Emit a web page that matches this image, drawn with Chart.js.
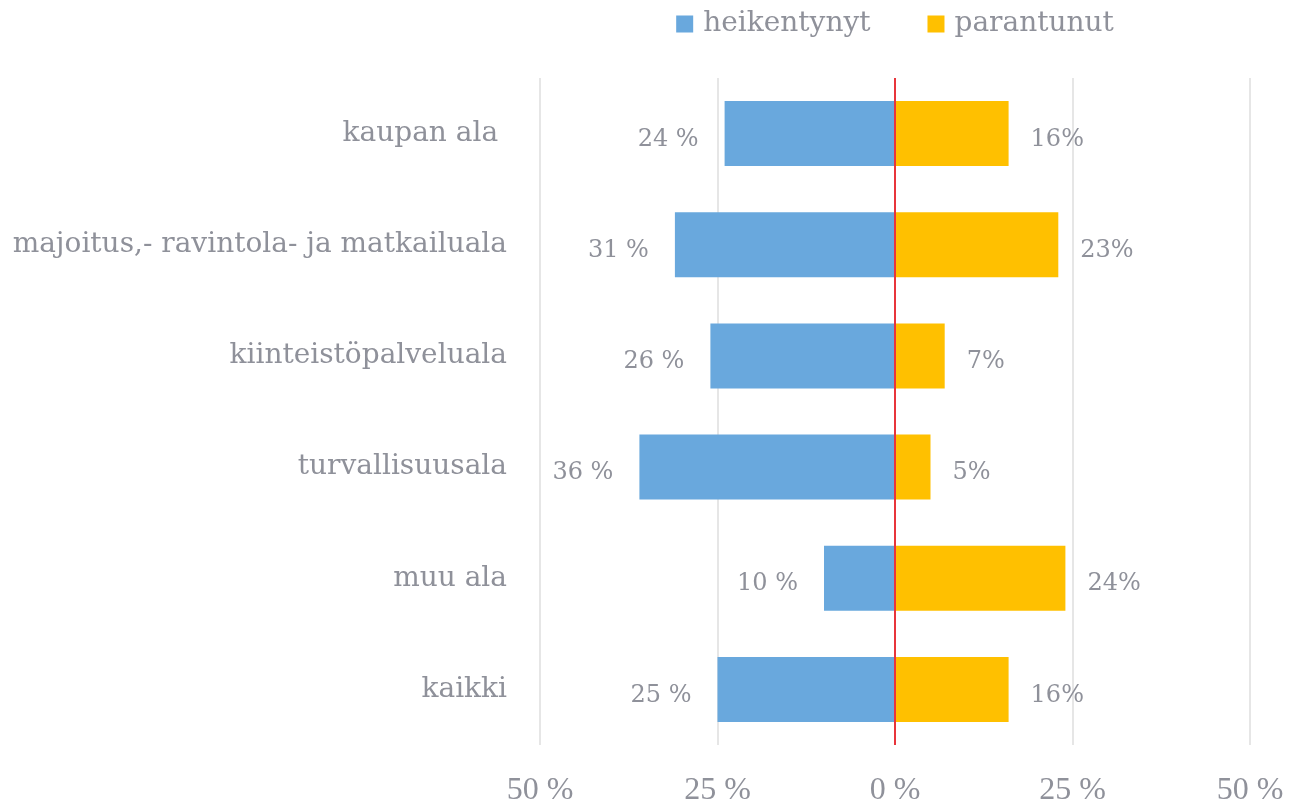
<!DOCTYPE html>
<html>
<head>
<meta charset="utf-8">
<script src="https://cdn.jsdelivr.net/npm/chart.js@4.4.1/dist/chart.umd.min.js"></script>
<style>
  html, body { margin: 0; padding: 0; background: #ffffff; }
  #wrap { width: 1291px; height: 805px; }
</style>
</head>
<body>
<div id="wrap"><canvas id="c" width="1291" height="805"></canvas></div>
<script>
const categories = ["kaupan ala ", "majoitus,- ravintola- ja matkailuala", "kiinteistöpalveluala", "turvallisuusala", "muu ala", "kaikki"];
const seriesNames = ["heikentynyt", "parantunut"];
const heikentynyt = [24, 31, 26, 36, 10, 25];
const parantunut = [16, 23, 7, 5, 24, 16];
const xTickValues = [-50, -25, 0, 25, 50];

const TEXT = '#8F919A';
const BLUE = '#69A8DD';
const YELLOW = '#FFC000';
const SERIF = '"DejaVu Serif", "Liberation Serif", serif';

const dataLabels = {
  id: 'dataLabels',
  afterDatasetsDraw(chart) {
    const ctx = chart.ctx;
    ctx.save();
    ctx.font = '24px ' + SERIF;
    ctx.fillStyle = TEXT;
    ctx.textBaseline = 'middle';
    chart.data.datasets.forEach((ds, di) => {
      const meta = chart.getDatasetMeta(di);
      meta.data.forEach((bar, i) => {
        const v = ds.data[i];
        if (v < 0) {
          ctx.textAlign = 'right';
          ctx.fillText(Math.abs(v) + ' %', bar.x - 26, bar.y + 6);
        } else {
          ctx.textAlign = 'left';
          ctx.fillText(v + '%', bar.x + 22, bar.y + 6);
        }
      });
    });
    ctx.restore();
  }
};

const zeroLine = {
  id: 'zeroLine',
  afterDatasetsDraw(chart) {
    const ctx = chart.ctx;
    const x = chart.scales.x.getPixelForValue(0);
    const a = chart.chartArea;
    ctx.save();
    ctx.strokeStyle = '#E8353B';
    ctx.lineWidth = 2;
    ctx.beginPath();
    ctx.moveTo(x, a.top);
    ctx.lineTo(x, a.bottom);
    ctx.stroke();
    ctx.restore();
  }
};

const customLegend = {
  id: 'customLegend',
  afterDraw(chart) {
    const ctx = chart.ctx;
    ctx.save();
    ctx.font = '28px ' + SERIF;
    const box = 17, gap = 10, spacing = 57;
    const items = chart.data.datasets.map(ds => ({
      label: ds.label, color: ds.backgroundColor, w: ctx.measureText(ds.label).width
    }));
    let total = 0;
    items.forEach((it, i) => { total += box + gap + it.w + (i < items.length - 1 ? spacing : 0); });
    const a = chart.chartArea;
    let x = (a.left + a.right) / 2 - total / 2;
    const cy = 24;
    ctx.textBaseline = 'middle';
    ctx.textAlign = 'left';
    items.forEach(it => {
      ctx.fillStyle = it.color;
      ctx.fillRect(x, cy - box / 2, box, box);
      x += box + gap;
      ctx.fillStyle = TEXT;
      ctx.fillText(it.label, x, cy);
      x += it.w + spacing;
    });
    ctx.restore();
  }
};

new Chart(document.getElementById('c'), {
  type: 'bar',
  data: {
    labels: categories,
    datasets: [
      { label: seriesNames[0], data: heikentynyt.map(v => -v), backgroundColor: BLUE,
        categoryPercentage: 1, barPercentage: 0.585 },
      { label: seriesNames[1], data: parantunut, backgroundColor: YELLOW,
        categoryPercentage: 1, barPercentage: 0.585 }
    ]
  },
  options: {
    indexAxis: 'y',
    responsive: false,
    animation: false,
    layout: { padding: { top: 78, right: 41, bottom: 0, left: 0 } },
    plugins: {
      legend: { display: false },
      tooltip: { enabled: false }
    },
    scales: {
      x: {
        stacked: true,
        min: -50, max: 50,
        afterBuildTicks(scale) { scale.ticks = xTickValues.map(v => ({ value: v })); },
        afterFit(scale) { scale.height = 60; scale.paddingLeft = 0; scale.paddingRight = 0; },
        ticks: {
          callback: v => Math.abs(v) + ' %',
          color: TEXT,
          font: { family: '"Liberation Serif", serif', size: 32 },
          padding: 26,
          maxRotation: 0
        },
        grid: {
          drawTicks: false,
          lineWidth: 2,
          color: ctx => (ctx.tick && ctx.tick.value === 0) ? 'rgba(0,0,0,0)' : '#E6E6E6'
        },
        border: { display: false }
      },
      y: {
        stacked: true,
        afterFit(scale) { scale.width = 540; },
        ticks: {
          color: TEXT,
          font: { family: SERIF, size: 28 },
          padding: 33
        },
        grid: { display: false, drawTicks: false },
        border: { display: false }
      }
    }
  },
  plugins: [dataLabels, zeroLine, customLegend]
});
</script>
</body>
</html>
